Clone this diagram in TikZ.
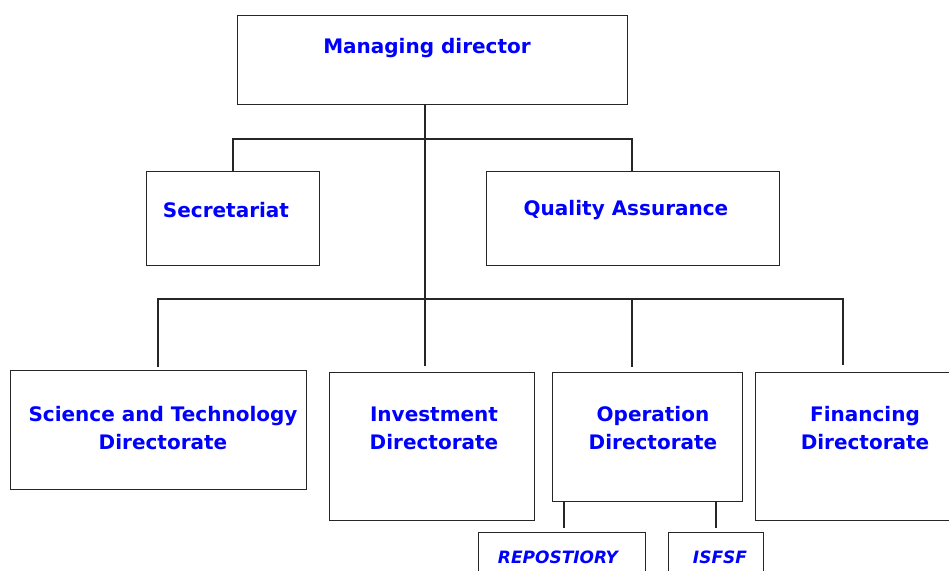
\documentclass[tikz,border=0pt]{standalone}
\usepackage{fontspec}
\setmainfont{DejaVu Sans}
\begin{document}
\begin{tikzpicture}[x=1pt,y=-1pt,
  box/.style={draw=black!85, line width=1.1pt, inner sep=0pt, anchor=north west, fill=white},
  lbl/.style={text=blue, font=\bfseries\fontsize{20}{28}\selectfont, align=center, inner sep=0pt},
  sublbl/.style={text=blue, font=\bfseries\itshape\fontsize{17}{20}\selectfont, inner sep=0pt},
  wire/.style={draw=black!85, line width=1.1pt}]
\clip (0,0) rectangle (949,570);
\fill[white] (0,0) rectangle (949,570);

% boxes
\node[box, minimum width=390pt, minimum height=89pt] (md) at (237,15) {};
\node[box, minimum width=173pt, minimum height=94pt] (sec) at (146,171) {};
\node[box, minimum width=293pt, minimum height=94pt] (qa) at (486,171) {};
\node[box, minimum width=296pt, minimum height=119pt] (sci) at (10,370) {};
\node[box, minimum width=205pt, minimum height=148pt] (inv) at (329,372) {};
\node[box, minimum width=190pt, minimum height=129pt] (ops) at (552,372) {};
\node[box, minimum width=200pt, minimum height=148pt] (fin) at (755,372) {};
\node[box, minimum width=167pt, minimum height=60pt] (rep) at (478,532) {};
\node[box, minimum width=95pt, minimum height=60pt] (isf) at (668,532) {};

% labels
\node[lbl] (mdT) at (427,48) {Managing director};
\node[lbl] (secT) at (226,210) {Secretariat};
\node[lbl] (qaT) at (626,210) {Quality Assurance};
\node[lbl] (sciT) at (163,428) {Science and Technology\\Directorate};
\node[lbl] (invT) at (434,428) {Investment\\Directorate};
\node[lbl] (opsT) at (653,428) {Operation\\Directorate};
\node[lbl] (finT) at (865,428) {Financing\\Directorate};
\node[sublbl] (repT) at (558,557) {REPOSTIORY};
\node[sublbl] (isfT) at (720,557) {ISFSF};

% junction points
\coordinate (spineTop) at (425,104);
\coordinate (spineEnd) at (425,366);
\coordinate (j1) at (425,139);
\coordinate (j2) at (425,299);

% connectors
\draw[wire] (spineTop) -- (spineEnd);
\draw[wire] (sec.north -| 233,0) |- (j1) -| (qa.north -| 632,0);
\draw[wire] (158,367) |- (j2) -| (843,365);
\draw[wire] (632,299) -- (632,367);
\draw[wire] (ops.south -| 564,0) -- (564,528);
\draw[wire] (ops.south -| 716,0) -- (716,528);
\end{tikzpicture}
\end{document}
